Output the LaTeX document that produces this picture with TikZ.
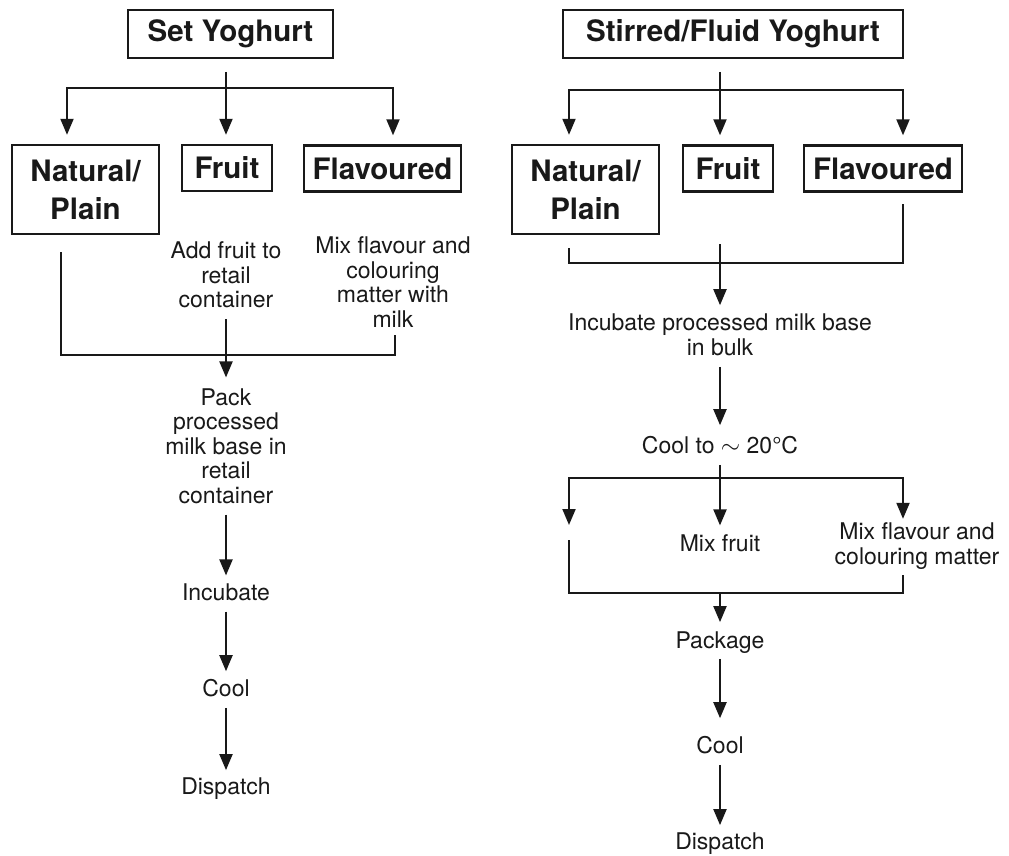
\documentclass[tikz,border=0pt]{standalone}
\usepackage{fontspec}
\setmainfont{TeX Gyre Heros}
\usetikzlibrary{positioning,arrows.meta,calc}

\begin{document}
\begin{tikzpicture}[
      x=1pt, y=-1pt,
      line width=2pt, black!90,
      >={Triangle[width=13pt,length=16pt]},
      title/.style={draw, line width=2.4pt, font=\fontsize{29.5}{36}\selectfont\bfseries,
                    minimum height=48pt, inner sep=0pt},
      cat/.style={draw, line width=2.4pt, font=\fontsize{29.5}{38}\selectfont\bfseries,
                  align=center, minimum height=46pt, inner sep=0pt},
      proc/.style={font=\fontsize{23}{24.5}\selectfont, align=center, inner sep=0pt},
      arr/.style={->, shorten <=10pt, shorten >=7pt}
    ]
    \useasboundingbox (0,0) rectangle (1009,856);

    % set yoghurt
    \node[title, minimum width=205pt] (setY) at (230.5,34) {Set Yoghurt};
    \node[cat, minimum width=147pt, minimum height=89pt] (lNat) at (85.5,189.5) {Natural/\\Plain};
    \node[cat, minimum width=90pt]  (lFru) at (227,168)   {Fruit};
    \node[cat, minimum width=157pt] (lFla) at (382.5,168.5) {Flavoured};

    \coordinate (lTop)  at (226,72);
    \coordinate (lBarL) at (67,88);
    \coordinate (lBarR) at (393,88);
    \draw[->, shorten >=9pt] (lTop) -- (lTop |- lFru.north);
    \draw[<->, shorten <=9pt, shorten >=9pt] (lBarL |- lNat.north) |- (lBarR) -- (lBarR |- lFla.north);

    \node[proc] (lAdd)  at (226,275) {Add fruit to\\retail\\container};
    \node[proc] (lMix)  at (393,282) {Mix flavour and\\colouring\\matter with\\milk};
    \node[proc] (lPack) at (226,446) {Pack\\processed\\milk base in\\retail\\container};
    \node[proc] (lInc)  at (226,592) {Incubate};
    \node[proc] (lCool) at (226,688) {Cool};
    \node[proc] (lDis)  at (226,789) {Dispatch};

    \coordinate (lNatOut) at (61,252);
    \coordinate (lMixOut) at (395,335);
    \coordinate (lJoin)   at (395,355);
    \draw (lNatOut) |- (lJoin) -- (lMixOut);
    \draw[arr, shorten >=10pt] (lAdd) -- (lPack);
    \draw[arr] (lPack) -- (lInc);
    \draw[arr] (lInc) -- (lCool);
    \draw[arr] (lCool) -- (lDis);

    % stirred yoghurt
    \node[title, minimum width=340pt] (stirY) at (733,34) {Stirred/Fluid Yoghurt};
    \node[cat, minimum width=147pt, minimum height=89pt] (rNat) at (585.5,189.5) {Natural/\\Plain};
    \node[cat, minimum width=90pt]  (rFru) at (728,168.5) {Fruit};
    \node[cat, minimum width=158pt] (rFla) at (883,168.5) {Flavoured};

    \coordinate (rTop)  at (720,72);
    \coordinate (rBarL) at (569,90);
    \coordinate (rBarR) at (903,90);
    \draw[->, shorten >=9pt] (rTop) -- (rTop |- rFru.north);
    \draw[<->, shorten <=9pt, shorten >=9pt] (rBarL |- rNat.north) |- (rBarR) -- (rBarR |- rFla.north);

    \coordinate (rNatOut) at (569,248);
    \coordinate (rFlaOut) at (903,204);
    \coordinate (rJoin)   at (903,263);
    \coordinate (rFruOut) at (720,244);
    \draw (rNatOut) |- (rJoin) -- (rFlaOut);

    \node[proc] (rInc)  at (720,335) {Incubate processed milk base\\in bulk};
    \node[proc] (rCoolA) at (720,445) {Cool to ${\sim}$ 20\textdegree C};
    \node[proc] (rMixF) at (720,543) {Mix fruit};
    \node[proc] (rMixC) at (917,546) {Mix flavour and\\colouring matter};
    \node[proc] (rPack) at (720,643) {Package};
    \node[proc] (rCool) at (720,745) {Cool};
    \node[proc] (rDis)  at (720,844) {Dispatch};

    \draw[->, shorten >=8pt] (rFruOut) -- (rInc);
    \draw[arr, shorten >=10pt] (rInc) -- (rCoolA);
    \draw[arr, shorten >=8pt] (rCoolA) -- (rMixF);

    \coordinate (rTipL) at (569,525);
    \coordinate (rBrR)  at (903,478);
    \draw[<->, shorten >=3pt] (rTipL) |- (rBrR) -- (rBrR |- rMixC.north);

    \coordinate (rNatIn)  at (569,540);
    \coordinate (rMixOut) at (903,575);
    \coordinate (rJoinB)  at (903,593);
    \coordinate (rMid)    at (720,593);
    \draw (rNatIn) |- (rJoinB) -- (rMixOut);
    \draw[->, shorten >=9pt] (rMid) -- (rPack);
    \draw[arr, shorten <=4pt, shorten >=17pt] (rPack) -- (rCool);
    \draw[arr] (rCool) -- (rDis);
  \end{tikzpicture}
\end{document}
